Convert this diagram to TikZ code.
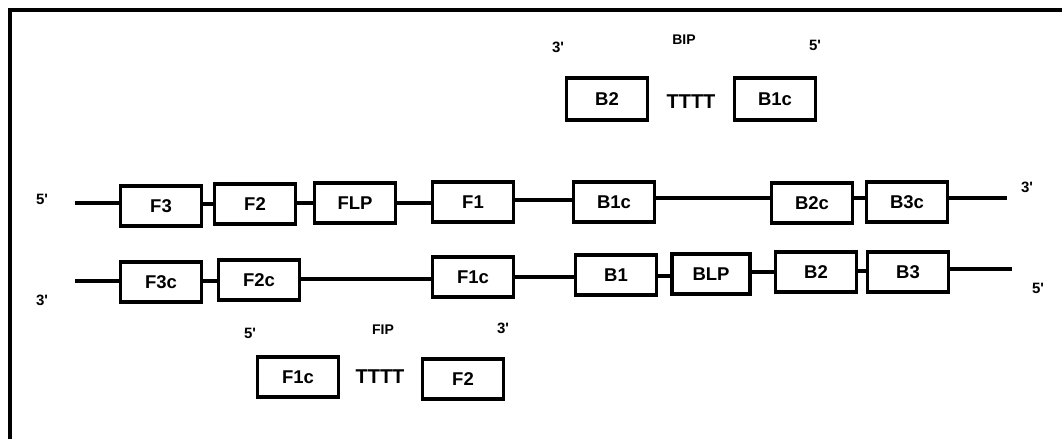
\documentclass[tikz,border=0pt]{standalone}
\usepackage{fontspec}
\setmainfont{Liberation Sans}
\newcommand{\pr}{\textquotesingle}
\begin{document}
\begin{tikzpicture}[x=1pt,y=-1pt,
  seg/.style={draw, line width=3.6pt, rectangle, minimum width=81pt, minimum height=40pt,
    inner sep=0pt, font=\fontsize{18.5}{18.5}\selectfont\bfseries},
  strand/.style={line width=3.8pt},
  endlbl/.style={font=\fontsize{15}{15}\selectfont\bfseries, inner sep=0pt},
  primer/.style={font=\fontsize{14}{14}\selectfont\bfseries, inner sep=0pt},
  linker/.style={font=\fontsize{20}{20}\selectfont\bfseries, inner sep=0pt}]
\useasboundingbox (0,0) rectangle (1062,439);
% frame
\draw[line width=4pt] (10,439) -- (10,10) -- (1062,10);

% upper strand (5' -> 3')
\coordinate (t5) at (75,203);
\coordinate (t3) at (1007,198);
\node[seg] (F3)  at (161,206) {F3};
\node[seg] (F2)  at (255,204) {F2};
\node[seg] (FLP) at (355,203) {FLP};
\node[seg] (F1)  at (473,202) {F1};
\node[seg] (B1c) at (614,202) {B1c};
\node[seg] (B2c) at (812,203) {B2c};
\node[seg] (B3c) at (907,202) {B3c};
\draw[strand] (t5) -- (F3.west |- t5);
\draw[strand] (F3.east |- F2) -- (F2.west);
\draw[strand] (F2.east |- FLP) -- (FLP.west);
\draw[strand] (FLP.east) -- (F1.west |- FLP);
\draw[strand] (F1.east) ++(0,-2) -- (B1c.west |- 0,200);
\draw[strand] (B1c.east) ++(0,-4) -- (B2c.west |- 0,198);
\draw[strand] (B2c.east |- 0,198) -- (B3c.west |- 0,198);
\draw[strand] (B3c.east |- t3) -- (t3);
\node[endlbl] (u5) at (42,199) {5\pr};
\node[endlbl] (u3) at (1027,187) {3\pr};

% lower strand (3' -> 5')
\coordinate (b3) at (75,281);
\coordinate (b5) at (1012,269);
\node[seg] (F3c) at (161,282) {F3c};
\node[seg] (F2c) at (259,280) {F2c};
\node[seg] (F1c) at (473,277) {F1c};
\node[seg] (B1)  at (616,275) {B1};
\node[seg, minimum width=78pt] (BLP) at (711,274) {BLP};
\node[seg] (B2)  at (816,272) {B2};
\node[seg] (B3)  at (908,272) {B3};
\draw[strand] (b3) -- (F3c.west |- b3);
\draw[strand] (F3c.east |- b3) -- (F2c.west |- b3);
\draw[strand] (F2c.east |- 0,279) -- (F1c.west |- 0,279);
\draw[strand] (F1c.east |- 0,277) -- (B1.west |- 0,277);
\draw[strand] (B1.east |- 0,276) -- (BLP.west |- 0,276);
\draw[strand] (BLP.east |- 0,272) -- (B2.west |- 0,272);
\draw[strand] (B2.east |- 0,271) -- (B3.west |- 0,271);
\draw[strand] (B3.east |- b5) -- (b5);
\node[endlbl] (l3) at (42,300) {3\pr};
\node[endlbl] (l5) at (1038,288) {5\pr};

% backward inner primer
\node[seg, minimum height=42pt] (pB2)  at (607,99) {B2};
\node[linker] (bT) at (691,102) {TTTT};
\node[seg, minimum height=42pt] (pB1c) at (775,99) {B1c};
\node[endlbl] (bi3) at (558,47) {3\pr};
\node[primer] (BIP) at (684,40) {BIP};
\node[endlbl] (bi5) at (815,45) {5\pr};

% forward inner primer
\node[seg] (pF1c) at (298,377) {F1c};
\node[linker] (fT) at (380,377) {TTTT};
\node[seg] (pF2)  at (463,379) {F2};
\node[endlbl] (fi5) at (250,333) {5\pr};
\node[primer] (FIP) at (383,330) {FIP};
\node[endlbl] (fi3) at (503,328) {3\pr};
\end{tikzpicture}
\end{document}
